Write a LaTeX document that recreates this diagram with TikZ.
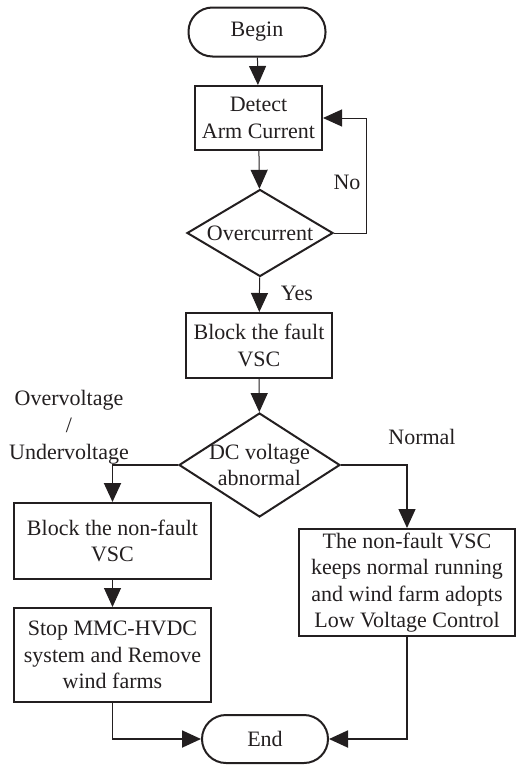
\documentclass[tikz,border=0pt]{standalone}
\usepackage{fontspec}
\setmainfont{Liberation Serif}
\usetikzlibrary{arrows.meta,shapes.geometric}

\definecolor{ink}{RGB}{35,31,32}

\tikzset{
  txt/.style={font=\fontsize{22}{26.5}\selectfont, align=center, inner sep=0pt, text=ink},
  stepbox/.style={txt, draw=ink, line width=2pt, rectangle},
  terminal/.style={txt, draw=ink, line width=2pt, rectangle, rounded corners=24pt},
  decision/.style={draw=ink, line width=2pt, diamond, inner sep=0pt},
  tip/.style={-{Triangle[length=19pt,width=17pt]}},
  flow/.style={draw=ink, line width=1pt, tip},
  flowthick/.style={draw=ink, line width=1.9pt, tip},
}

\begin{document}
\begin{tikzpicture}[x=1pt,y=-1pt]
  \useasboundingbox (0,0) rectangle (516,766);

  % start / end terminals
  \node[terminal, minimum width=137pt, minimum height=49pt] (begin) at (257,32) {Begin};
  \node[terminal, minimum width=126pt, minimum height=48pt] (end) at (265,739) {End};

  % process steps
  \node[stepbox, minimum width=127pt, minimum height=64pt] (detect) at (258.5,118) {Detect\\Arm Current};
  \node[stepbox, minimum width=146pt, minimum height=65pt] (blockf) at (259,345.5) {Block the fault\\VSC};
  \node[stepbox, minimum width=197pt, minimum height=76pt] (blocknf) at (112.5,541) {Block the non-fault\\VSC};
  \node[stepbox, minimum width=197pt, minimum height=94pt] (stop) at (112.5,655) {Stop MMC-HVDC\\system and Remove\\wind farms};
  \node[stepbox, minimum width=216pt, minimum height=107pt] (keep) at (407,582.5) {The non-fault VSC\\keeps normal running\\and wind farm adopts\\Low Voltage Control};

  % decisions
  \node[decision, minimum width=146pt, minimum height=87pt,
        label={[txt]center:Overcurrent}] (oc) at (260,233) {};
  \node[decision, minimum width=161pt, minimum height=104pt,
        label={[txt]center:DC voltage\\abnormal}] (dc) at (259.5,465) {};

  % branch labels
  \node[txt] (lno) at (347,182) {No};
  \node[txt] (lyes) at (297,293) {Yes};
  \node[txt, font=\fontsize{22}{27}\selectfont] (lover) at (69,427) {Overvoltage\\/\\Undervoltage};
  \node[txt] (lnormal) at (422,437) {Normal};

  % connectors
  \draw[flow] (begin) -- (detect);
  \draw[flow] (detect) -- (oc);
  \draw[flow] (oc.east) -- ++(32,0) |- (detect.east);
  \draw[flow] (oc) -- (blockf);
  \draw[flow] (blockf) -- (dc);
  \draw[flowthick] (dc.west) -| (blocknf.north);
  \draw[flow] (blocknf) -- (stop);
  \draw[flowthick] (stop.south) |- (end.west);
  \draw[flow, line width=1.4pt] (dc.east) -| (keep.north);
  \draw[flowthick] (keep.south) |- (end.east);
\end{tikzpicture}
\end{document}
